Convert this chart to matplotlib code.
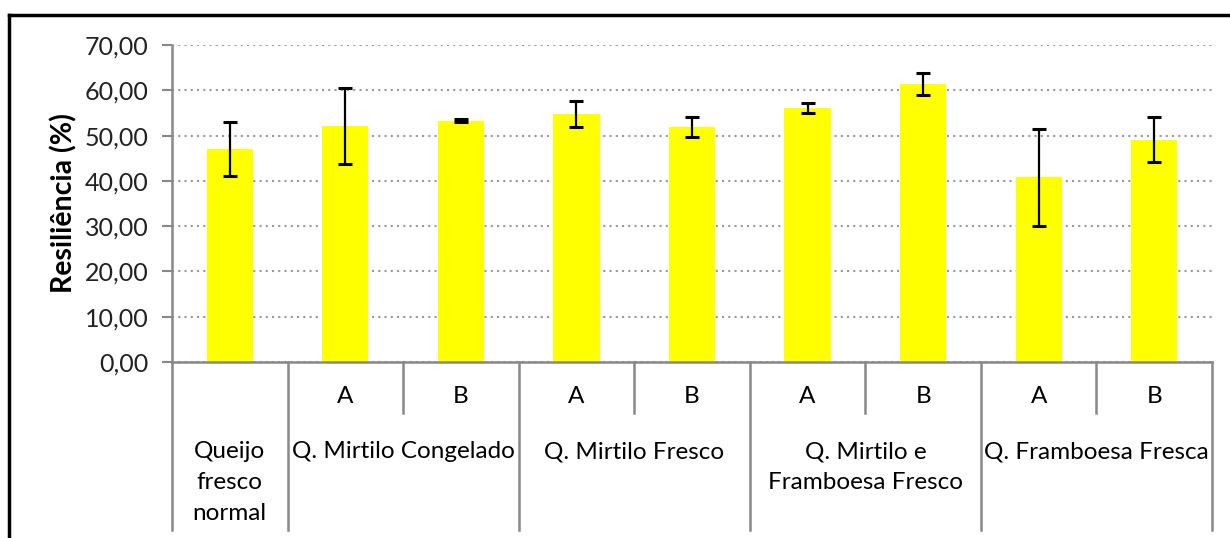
import numpy as np
import matplotlib.pyplot as plt
from matplotlib.lines import Line2D

plt.rcParams['font.family'] = ['Lato', 'DejaVu Sans']

# Dados
sub_labels = ['', 'A', 'B', 'A', 'B', 'A', 'B', 'A', 'B']
groups = ['Queijo\nfresco\nnormal', 'Q. Mirtilo Congelado', 'Q. Mirtilo Fresco',
          'Q. Mirtilo e\nFramboesa Fresco', 'Q. Framboesa Fresca']
group_sizes = [1, 2, 2, 2, 2]
resiliencia = [47.0, 52.2, 53.3, 54.8, 51.9, 56.1, 61.4, 40.8, 49.1]
erro = [6.0, 8.4, 0.3, 2.8, 2.2, 1.2, 2.5, 10.7, 5.0]

fig = plt.figure(figsize=(12.3, 5.38), dpi=100)
ax = fig.add_axes([0.1398, 0.327, 0.8456, 0.5893])

x = np.arange(len(resiliencia))
ax.bar(x, resiliencia, width=0.4, color='#FFFF00', zorder=2)
ax.errorbar(x, resiliencia, yerr=erro, fmt='none', ecolor='black',
            elinewidth=1.6, capsize=5, capthick=2.2, zorder=3)

ax.set_xlim(-0.5, len(x) - 0.5)
ax.set_ylim(0, 70)
ax.set_yticks(np.arange(0, 71, 10))
ax.set_yticklabels([f'{v:.2f}'.replace('.', ',') for v in np.arange(0, 71, 10)],
                   fontsize=18, color='#222222')
ax.tick_params(axis='y', length=7, width=1.5, color='#888888', pad=10)
ax.set_xticks([])
ax.grid(axis='y', linestyle=(0, (1, 2)), color='#999999', linewidth=1.5, zorder=1)

for s in ['top', 'right']:
    ax.spines[s].set_visible(False)
for s in ['left', 'bottom']:
    ax.spines[s].set_color('#888888')
    ax.spines[s].set_linewidth(1.8)

ax.set_ylabel('Resiliência (%)', fontsize=20.5, fontweight='bold', labelpad=5)

# Eixo de categorias com dois níveis
tr = ax.get_xaxis_transform()
for i, lab in enumerate(sub_labels):
    if lab:
        ax.text(i, -0.11, lab, transform=tr, ha='center', va='center', fontsize=17.5)

start = 0
bounds = [-0.5]
for g, n in zip(groups, group_sizes):
    center = start + (n - 1) / 2
    ax.text(center, -0.25, g, transform=tr, ha='center', va='top',
            fontsize=17.5, linespacing=1.58)
    for k in range(1, n):
        ax.plot([start + k - 0.5] * 2, [0, -0.161], transform=tr, color='#888888',
                lw=1.8, clip_on=False)
    start += n
    bounds.append(start - 0.5)
for b in bounds:
    ax.plot([b, b], [0, -0.53], transform=tr, color='#888888', lw=1.8, clip_on=False)

# Moldura
fig.add_artist(Line2D([9 / 1230, 9 / 1230], [0, 1 - 15 / 538], color='black', lw=2.5))
fig.add_artist(Line2D([9 / 1230, 1], [1 - 15 / 538, 1 - 15 / 538], color='black', lw=2.5))

fig.savefig('out.png', dpi=100)
